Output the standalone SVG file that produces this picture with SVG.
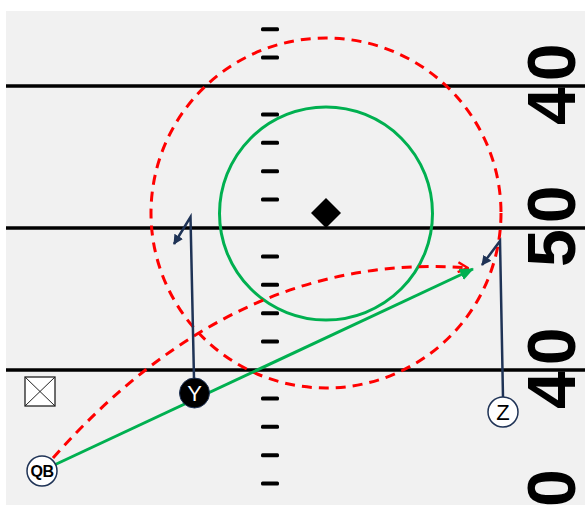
<svg xmlns="http://www.w3.org/2000/svg" width="585" height="505" viewBox="0 0 585 505">
<style>
.yard{stroke:#000;stroke-width:3.5;}
.hash{fill:#000;}
.num{font-family:"Liberation Sans",Arial,sans-serif;font-weight:bold;font-size:68px;fill:#000;letter-spacing:6px;}
.red{fill:none;stroke:#ff0000;stroke-width:3;stroke-dasharray:10 7;}
.green{fill:none;stroke:#00b050;stroke-width:3;}
.route{fill:none;stroke:#1f3356;stroke-width:2.5;}
.lbl{font-family:"Liberation Sans",Arial,sans-serif;text-anchor:middle;}
</style>
<defs>
<marker id="arrRed" markerUnits="userSpaceOnUse" viewBox="0 0 12 12" refX="11" refY="6" markerWidth="12" markerHeight="12" orient="auto">
<path d="M1,1 L11,6 L1,11" fill="none" stroke="#ff0000" stroke-width="2.5"/>
</marker>
<marker id="arrGreen" markerUnits="userSpaceOnUse" viewBox="0 0 14 12" refX="13" refY="6" markerWidth="14" markerHeight="12" orient="auto">
<path d="M0,0 L14,6 L0,12 Z" fill="#00b050"/>
</marker>
<marker id="arrNavy" markerUnits="userSpaceOnUse" viewBox="0 0 10 10" refX="9" refY="5" markerWidth="10" markerHeight="10" orient="auto">
<path d="M0,0 L10,5 L0,10 Z" fill="#1f3356"/>
</marker>
</defs>
<rect x="0" y="0" width="585" height="505" fill="#ffffff"/>
<rect x="6" y="11" width="579" height="494" fill="#f1f1f1"/>
<g id="field">
<line class="yard" x1="6" y1="86" x2="585" y2="86"/>
<line class="yard" x1="6" y1="228" x2="585" y2="228"/>
<line class="yard" x1="6" y1="370" x2="585" y2="370"/>
<g class="hash">
<rect x="261" y="27.2" width="18" height="4" rx="1.5"/>
<rect x="261" y="55.6" width="18" height="4" rx="1.5"/>
<rect x="261" y="112.4" width="18" height="4" rx="1.5"/>
<rect x="261" y="140.8" width="18" height="4" rx="1.5"/>
<rect x="261" y="169.2" width="18" height="4" rx="1.5"/>
<rect x="261" y="197.6" width="18" height="4" rx="1.5"/>
<rect x="261" y="254.4" width="18" height="4" rx="1.5"/>
<rect x="261" y="282.8" width="18" height="4" rx="1.5"/>
<rect x="261" y="311.2" width="18" height="4" rx="1.5"/>
<rect x="261" y="339.6" width="18" height="4" rx="1.5"/>
<rect x="261" y="396.4" width="18" height="4" rx="1.5"/>
<rect x="261" y="424.8" width="18" height="4" rx="1.5"/>
<rect x="261" y="453.2" width="18" height="4" rx="1.5"/>
<rect x="261" y="481.6" width="18" height="4" rx="1.5"/>
</g>
<text class="num" transform="translate(575,125) rotate(-90)">40</text>
<text class="num" transform="translate(575,267) rotate(-90)">50</text>
<text class="num" transform="translate(575,409) rotate(-90)">40</text>
<text class="num" transform="translate(575,507) rotate(-90)">0</text>
</g>
<g id="zones">
<circle cx="326" cy="213" r="175" class="red"/>
<circle cx="326" cy="213.5" r="106.5" class="green"/>
<path id="ball" d="M326,198 L341,213 L326,228 L311,213 Z" fill="#000"/>
</g>
<g id="connectors">
<path class="red" d="M53,458 Q237,250 468,268" marker-end="url(#arrRed)"/>
<line class="green" x1="50" y1="467" x2="473" y2="269" marker-end="url(#arrGreen)"/>
<polyline class="route" points="194,378 190.5,217 174,244" marker-end="url(#arrNavy)"/>
<polyline class="route" points="503,397 500,241 482,265" marker-end="url(#arrNavy)"/>
</g>
<g id="box">
<rect x="25" y="377" width="30" height="29" fill="#fff" stroke="#222" stroke-width="1.3"/>
<path d="M25,377 L55,406 M55,377 L25,406" stroke="#222" stroke-width="1"/>
</g>
<g id="node-Y">
<circle cx="194.5" cy="393" r="15" fill="#000" stroke="#1f3356" stroke-width="1"/>
<text class="lbl" x="194.5" y="401" font-size="22" fill="#fff">Y</text>
</g>
<g id="node-Z">
<circle cx="503" cy="412" r="15" fill="#fff" stroke="#1f3356" stroke-width="1.5"/>
<text class="lbl" x="503" y="420" font-size="22" fill="#000">Z</text>
</g>
<g id="node-QB">
<circle cx="42" cy="471" r="15" fill="#fff" stroke="#1f3356" stroke-width="1.5"/>
<text class="lbl" x="42" y="477" font-size="16" font-weight="bold" fill="#000" letter-spacing="-0.5">QB</text>
</g>
</svg>
